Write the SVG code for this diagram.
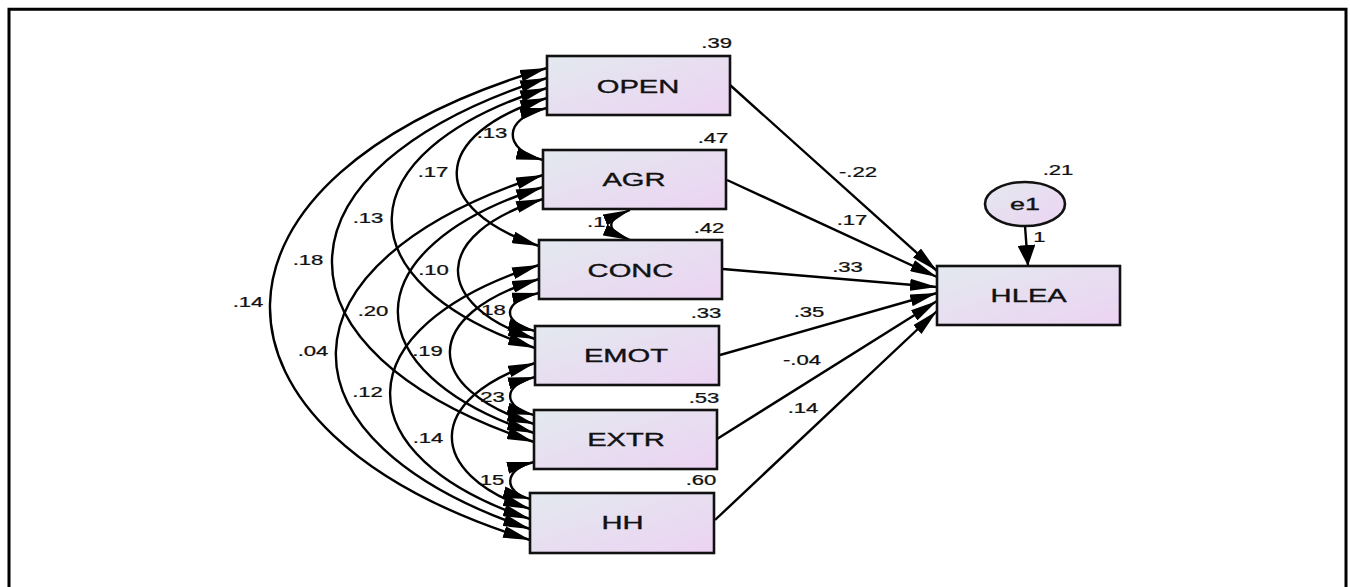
<svg xmlns="http://www.w3.org/2000/svg" width="1350" height="587" viewBox="0 0 1350 587">
  <defs>
    <linearGradient id="boxFill" x1="0" y1="0" x2="1" y2="1">
      <stop offset="0" stop-color="#e3e9ef"/>
      <stop offset="1" stop-color="#ecd3f2"/>
    </linearGradient>
    <marker id="head" viewBox="0 0 27 12" refX="27" refY="6" markerWidth="27" markerHeight="12" markerUnits="userSpaceOnUse" orient="auto-start-reverse">
      <path d="M0,0 L27,6 L0,12 z" fill="#000"/>
    </marker>
    <marker id="headV" viewBox="0 0 21 18" refX="21" refY="9" markerWidth="21" markerHeight="18" markerUnits="userSpaceOnUse" orient="auto">
      <path d="M0,0 L21,9 L0,18 z" fill="#000"/>
    </marker>
  </defs>
  <style>
    .box { fill: url(#boxFill); stroke: #111; stroke-width: 2.6; }
    .name { font-family: "Liberation Sans", Arial, sans-serif; font-size: 18px; fill: #111; stroke: #111; stroke-width: 0.35; text-anchor: middle; }
    .num { font-family: "Liberation Sans", Arial, sans-serif; font-size: 14px; fill: #111; stroke: #111; stroke-width: 0.25; text-anchor: middle; }
    .cov { fill: none; stroke: #000; stroke-width: 2.4; marker-start: url(#head); marker-end: url(#head); }
    .path { fill: none; stroke: #000; stroke-width: 2.4; marker-end: url(#head); }
  </style>

  <rect width="1350" height="587" fill="#fff"/>
  <!-- outer frame, open at the bottom -->
  <path d="M9,592 V9.3 H1346 V592" fill="none" stroke="#000" stroke-width="3"/>

  <!-- connectors: covariances on the left, regressions to HLEA on the right -->
  <g id="connectors">
    <path class="cov" d="M547,68 C180.5,177 180.5,431 530,540"/>
    <path class="cov" d="M547,78 C262.5,169 262.5,351 534,442"/>
    <path class="cov" d="M547,88 C342,153 342,283 535,348"/>
    <path class="cov" d="M547,98 C428,135 428,209 539,246"/>
    <path class="cov" d="M547,108 C502,118 502,150 543,160"/>
    <path class="cov" d="M543,175 C269,263 269,441 530,529"/>
    <path class="cov" d="M543,187 C351,248 351,372 534,433"/>
    <path class="cov" d="M543,199 C431,234 431,304 535,339"/>
    <path class="cov" d="M630,210 C605,220 605,230 630,240"/>
    <path class="cov" d="M539,265 C342,328 342,456 530,519"/>
    <path class="cov" d="M539,279 C421,315 421,388 534,424"/>
    <path class="cov" d="M539,293 C501,301 501,323 535,331"/>
    <path class="cov" d="M535,363 C425,399 425,473 530,509"/>
    <path class="cov" d="M535,377 C502,385 502,407 534,415"/>
    <path class="cov" d="M534,462 C503,469 503,492 530,499"/>

    <path class="path" d="M730,85 L937,271"/>
    <path class="path" d="M727,180 L937,277"/>
    <path class="path" d="M723,269 L937,287"/>
    <path class="path" d="M720,355 L937,293"/>
    <path class="path" d="M717,439 L937,301"/>
    <path class="path" d="M715,520 L937,311"/>
    <path d="M1025,226 L1028,266" fill="none" stroke="#000" stroke-width="2.4" marker-end="url(#headV)"/>

    <!-- covariance estimates -->
    <text class="num" transform="translate(492,138) scale(1.58,1)">.13</text>
    <text class="num" style="text-anchor:start" transform="translate(587,227) scale(1.58,1)">.1</text>
    <text class="num" transform="translate(433,176.7) scale(1.58,1)">.17</text>
    <text class="num" transform="translate(368,223) scale(1.58,1)">.13</text>
    <text class="num" transform="translate(308,265) scale(1.58,1)">.18</text>
    <text class="num" transform="translate(433.5,275) scale(1.58,1)">.10</text>
    <text class="num" transform="translate(248,306.7) scale(1.58,1)">.14</text>
    <text class="num" transform="translate(373,316) scale(1.58,1)">.20</text>
    <text class="num" transform="translate(493.5,315) scale(1.58,1)">18</text>
    <text class="num" transform="translate(313,355.7) scale(1.58,1)">.04</text>
    <text class="num" transform="translate(427.5,355.7) scale(1.58,1)">.19</text>
    <text class="num" transform="translate(367.5,396.7) scale(1.58,1)">.12</text>
    <text class="num" transform="translate(492.5,402) scale(1.58,1)">23</text>
    <text class="num" transform="translate(428,443) scale(1.58,1)">.14</text>
    <text class="num" transform="translate(492,485) scale(1.58,1)">15</text>

    <!-- regression weights -->
    <text class="num" transform="translate(858,176.7) scale(1.58,1)">-.22</text>
    <text class="num" transform="translate(852,225) scale(1.58,1)">.17</text>
    <text class="num" transform="translate(847.5,271.7) scale(1.58,1)">.33</text>
    <text class="num" transform="translate(809,317) scale(1.58,1)">.35</text>
    <text class="num" transform="translate(802,365) scale(1.58,1)">-.04</text>
    <text class="num" transform="translate(803,412.7) scale(1.58,1)">.14</text>
    <text class="num" transform="translate(1039.5,241.7) scale(1.58,1)">1</text>
  </g>

  <g id="OPEN">
    <rect class="box" x="547" y="56" width="183" height="59"/>
    <text class="name" transform="translate(638,92.5) scale(1.62,1)">OPEN</text>
    <text class="num" transform="translate(716.7,48.3) scale(1.58,1)">.39</text>
  </g>
  <g id="AGR">
    <rect class="box" x="543" y="150" width="183" height="59"/>
    <text class="name" transform="translate(634,186) scale(1.62,1)">AGR</text>
    <text class="num" transform="translate(713,143.3) scale(1.58,1)">.47</text>
  </g>
  <g id="CONC">
    <rect class="box" x="539" y="240" width="183" height="59"/>
    <text class="name" transform="translate(630.5,277) scale(1.62,1)">CONC</text>
    <text class="num" transform="translate(709,233) scale(1.58,1)">.42</text>
  </g>
  <g id="EMOT">
    <rect class="box" x="535" y="326" width="184" height="59"/>
    <text class="name" transform="translate(626,362) scale(1.62,1)">EMOT</text>
    <text class="num" transform="translate(706,318) scale(1.58,1)">.33</text>
  </g>
  <g id="EXTR">
    <rect class="box" x="534" y="410" width="183" height="59"/>
    <text class="name" transform="translate(626,446) scale(1.62,1)">EXTR</text>
    <text class="num" transform="translate(704,402.7) scale(1.58,1)">.53</text>
  </g>
  <g id="HH">
    <rect class="box" x="530" y="493" width="184" height="60"/>
    <text class="name" transform="translate(622.5,529.3) scale(1.62,1)">HH</text>
    <text class="num" transform="translate(701,485) scale(1.58,1)">.60</text>
  </g>
  <g id="HLEA">
    <rect class="box" x="937" y="266" width="183" height="59"/>
    <text class="name" transform="translate(1028.7,302) scale(1.62,1)">HLEA</text>
  </g>
  <g id="e1">
    <ellipse class="box" cx="1025" cy="204" rx="40" ry="22" stroke-width="2.3"/>
    <text class="name" style="font-size:17px" transform="translate(1025,210) scale(1.58,1)">e1</text>
    <text class="num" transform="translate(1058,175) scale(1.58,1)">.21</text>
  </g>
</svg>
